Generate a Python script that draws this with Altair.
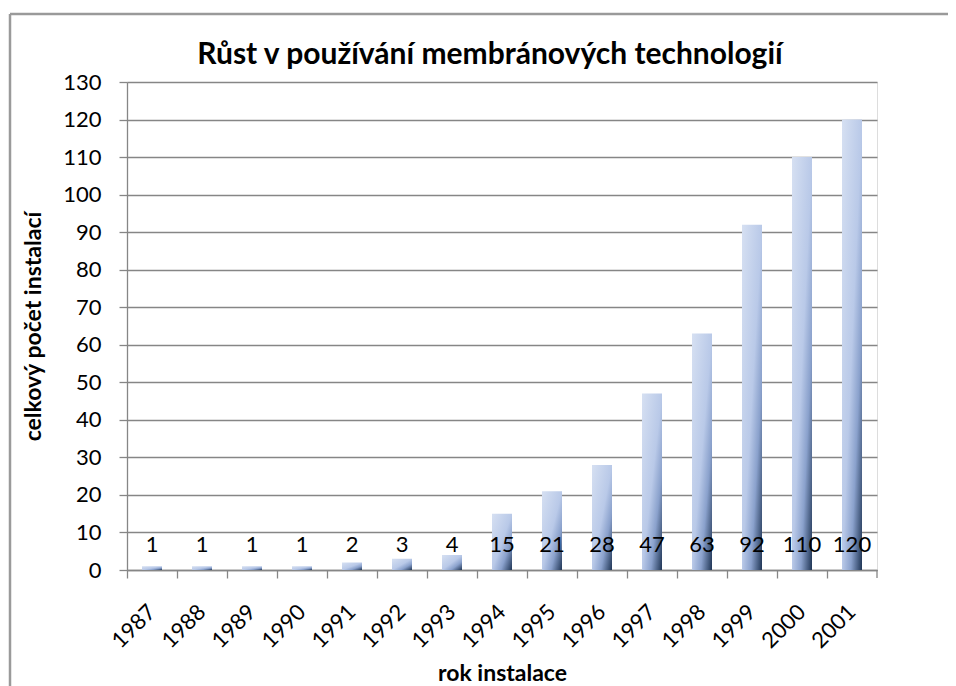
import altair as alt
import pandas as pd

years = ["1987", "1988", "1989", "1990", "1991", "1992", "1993", "1994",
         "1995", "1996", "1997", "1998", "1999", "2000", "2001"]
installs = [1, 1, 1, 1, 2, 3, 4, 15, 21, 28, 47, 63, 92, 110, 120]

title_text = "Růst v používání membránových technologií"
x_title = "rok instalace"
y_title = "celkový počet instalací"

df = pd.DataFrame({"rok": years, "pocet": installs})

FONT = "Lato"
GRID = "#868686"
W, H = 750, 488

gradient = alt.LinearGradient(
    gradient="linear",
    x1=0, y1=0, x2=1, y2=1,
    stops=[
        alt.GradientStop(offset=0, color="#d6e0f2"),
        alt.GradientStop(offset=0.5, color="#b9c9e8"),
        alt.GradientStop(offset=0.72, color="#8aa1cc"),
        alt.GradientStop(offset=1, color="#1f3555"),
    ],
)

xscale = alt.Scale(paddingInner=0, paddingOuter=0)
yscale = alt.Scale(domain=[0, 130], nice=False)

y_enc = alt.Y("pocet:Q", scale=yscale,
              axis=alt.Axis(title=y_title, values=list(range(0, 131, 10)),
                            tickSize=8, labelPadding=18, tickColor=GRID,
                            domainColor=GRID, gridColor=GRID, gridWidth=1.3,
                            domainWidth=1.3, tickWidth=1.3,
                            titleX=-94, titleY=H / 2, titleBaseline="middle",
                            titleFont=FONT, titleFontSize=23, titleFontWeight="bold",
                            labelFont=FONT, labelFontSize=22, labelColor="#000",
                            titleColor="#000"))

base = alt.Chart(df)

bars = base.mark_bar(width=20, fill=gradient).encode(
    x=alt.X("rok:N", sort=years, scale=xscale,
            axis=alt.Axis(orient="bottom", title=x_title, labelAngle=-45,
                          labelAlign="right", labelBaseline="middle",
                          labelPadding=38, ticks=False, domain=False,
                          titleY=103, titleBaseline="middle",
                          titleFont=FONT, titleFontSize=23, titleFontWeight="bold",
                          labelFont=FONT, labelFontSize=22, labelColor="#000",
                          titleColor="#000")),
    y=y_enc,
)

ticks_axis = base.mark_bar(opacity=0).encode(
    x=alt.X("rok:N", sort=years, scale=xscale,
            axis=alt.Axis(orient="bottom", title=None, labels=False,
                          bandPosition=0, tickSize=8, tickColor=GRID,
                          tickWidth=1.3, domainColor=GRID, domainWidth=1.3,
                          grid=False)),
    y=y_enc,
)

labels = base.mark_text(font=FONT, fontSize=22, color="#000",
                        baseline="alphabetic", align="center").encode(
    x=alt.X("rok:N", sort=years, scale=xscale, axis=None),
    y=alt.value(H - 18),
    text=alt.Text("pocet:Q"),
)

one = alt.Data(values=[{}])
end_tick = alt.Chart(one).mark_rule(color=GRID, strokeWidth=1.3).encode(
    x=alt.value(W), y=alt.value(H), y2=alt.value(H + 8))
frame_top = alt.Chart(one).mark_rule(color="#9a9a9a", strokeWidth=2.5).encode(
    x=alt.value(-117), x2=alt.value(900), y=alt.value(-68))
frame_left = alt.Chart(one).mark_rule(color="#9a9a9a", strokeWidth=2.5).encode(
    x=alt.value(-117), y=alt.value(-68), y2=alt.value(640))

title_mark = alt.Chart(alt.Data(values=[{"t": title_text}])).mark_text(
    font=FONT, fontSize=30, fontWeight="bold", color="#000",
    align="center", baseline="alphabetic").encode(
    x=alt.value(363), y=alt.value(-18), text="t:N")

chart = alt.layer(ticks_axis, bars, labels, end_tick, frame_top, frame_left,
                  title_mark).resolve_axis(
    x="independent"
).properties(
    width=W, height=H,
    autosize=alt.AutoSizeParams(type="none"),
    padding={"left": 119, "top": 74, "right": 71, "bottom": 116},
).configure_view(stroke=None).configure(background="white")

chart.save("out.html", embed_options={"renderer": "svg", "actions": False})
